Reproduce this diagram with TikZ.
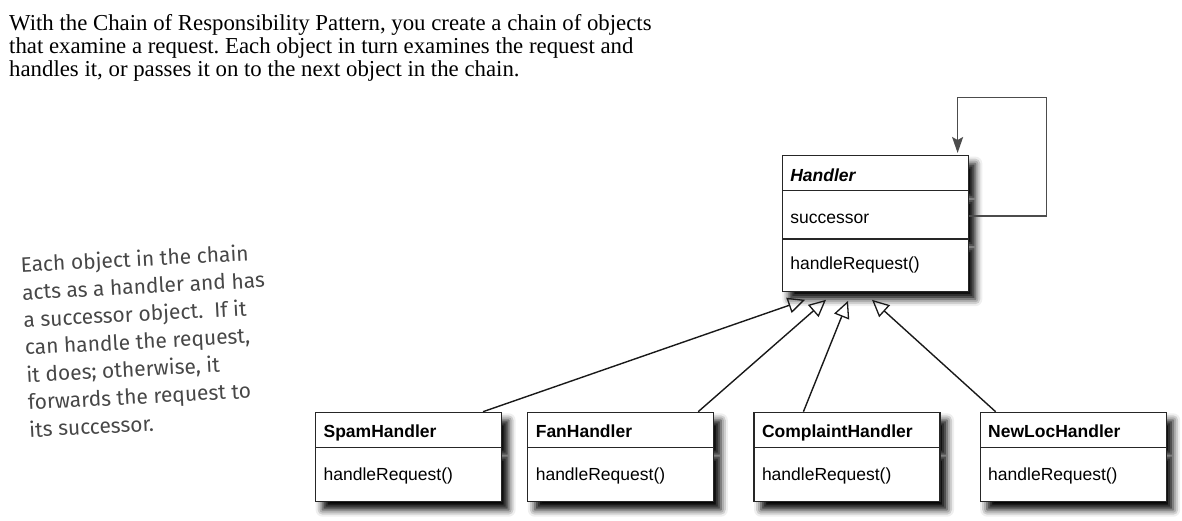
\documentclass[tikz,border=0pt]{standalone}
\usepackage{fontspec}
\setmainfont{Liberation Serif}
\setsansfont{Liberation Sans}
\newfontfamily\handfont{Fira Sans}
\usetikzlibrary{shapes.multipart,arrows.meta,positioning,calc,shadows.blur}
\tikzset{
    umlclass/.style = {draw=black!85, line width=1.2pt, fill=white, rectangle split, rectangle split parts=#1,
        rectangle split part align=left, minimum width=186pt, inner xsep=8pt, inner ysep=0pt,
        font=\sffamily\fontsize{17.5}{21}\selectfont,
        blur shadow={shadow xshift=7pt, shadow yshift=-8pt, shadow blur radius=7pt, shadow opacity=100}},
    inherit/.style = {draw=black!90, line width=1.4pt, -{Triangle[open, length=17pt, width=16pt, line width=1.3pt]}},
    selfref/.style = {draw=black!70, line width=1.6pt, -{Stealth[length=16pt, width=11pt, inset=3pt]}},
    remark/.style = {anchor=north west, inner sep=0pt, align=left},
}
\newcommand{\headstrut}{\rule[-9pt]{0pt}{34pt}}
\newcommand{\attrstrut}{\rule[-15pt]{0pt}{47pt}}
\newcommand{\opstrut}{\rule[-21pt]{0pt}{51pt}}
\newcommand{\opstrutlow}{\rule[-21pt]{0pt}{53pt}}

\begin{document}
\frenchspacing
\begin{tikzpicture}[x=1pt, y=-1pt]
    \useasboundingbox (0,0) rectangle (1182,520);

    % intro text
    \node[remark, font=\fontsize{22.8}{23}\selectfont] (intro) at (9,14)
        {With the Chain of Responsibility Pattern, you create a chain of objects\\
         that examine a request. Each object in turn examines the request and\\
         handles it, or passes it on to the next object in the chain.};

    % hand written note
    \node[remark, rotate=3, text=black!72, font=\handfont\fontsize{21}{27.5}\selectfont] (note) at (20,256)
        {Each object in the chain\\
         acts as a handler and has\\
         a successor object.\ \ If it\\
         can handle the request,\\
         it does; otherwise, it\\
         forwards the request to\\
         its successor.};

    % classes
    \node[umlclass=3, anchor=north west] (handler) at (781.7,155)
        {\headstrut\textbf{\textit{Handler}}
         \nodepart{two}\attrstrut successor
         \nodepart{three}\opstrut handleRequest()};

    \node[umlclass=2, anchor=north west] (spam) at (315,411.7)
        {\headstrut\textbf{SpamHandler} \nodepart{two}\opstrutlow handleRequest()};
    \node[umlclass=2, right=25pt of spam] (fan)
        {\headstrut\textbf{FanHandler} \nodepart{two}\opstrutlow handleRequest()};
    \node[umlclass=2, right=39pt of fan] (complaint)
        {\headstrut\textbf{ComplaintHandler} \nodepart{two}\opstrutlow handleRequest()};
    \node[umlclass=2, right=39pt of complaint] (newloc)
        {\headstrut\textbf{NewLocHandler} \nodepart{two}\opstrutlow handleRequest()};

    % successor link
    \coordinate (loopin) at ($(handler.north east)+(-11.3,-2)$);
    \draw[selfref] ($(handler.north east)+(0,60.7)$) -| ++(77.7,-118.4) -| (loopin);

    % generalisation
    \draw[inherit] ($(spam.north west)+(168,0)$) -- ($(handler.south west)+(23.3,8)$);
    \draw[inherit] ($(fan.north west)+(171,0)$) -- ($(handler.south west)+(44.3,8)$);
    \draw[inherit] ($(complaint.north west)+(50,0)$) -- ($(handler.south west)+(66.3,9)$);
    \draw[inherit] ($(newloc.north west)+(16,0)$) -- ($(handler.south west)+(90.3,8)$);
\end{tikzpicture}
\end{document}
